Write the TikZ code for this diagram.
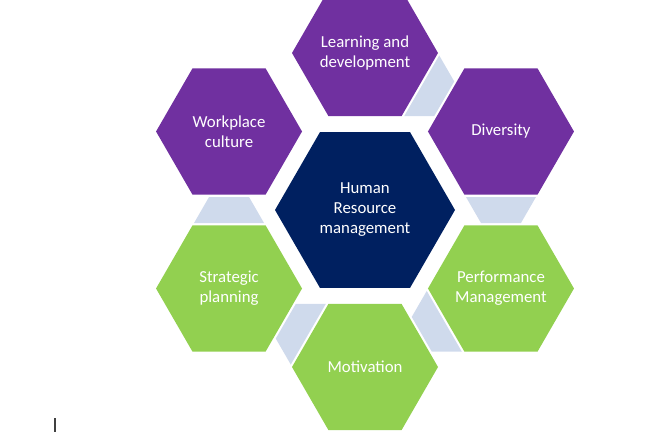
\documentclass[tikz,border=0pt]{standalone}
\usepackage{fontspec}
\setmainfont{Carlito}
\usetikzlibrary{shapes.geometric, calc}

\definecolor{hrnavy}{RGB}{0,32,96}
\definecolor{hrpurple}{RGB}{112,48,160}
\definecolor{hrgreen}{RGB}{146,208,80}
\definecolor{hrlink}{RGB}{207,218,236}

\begin{document}
\begin{tikzpicture}[
    x=1pt, y=1pt,
    hexbox/.style={regular polygon, regular polygon sides=6, inner sep=-8pt, text=white, align=center, font=\fontsize{16.8}{20}\selectfont},
    hexcore/.style={hexbox, fill=hrnavy, minimum size=180pt},
    hexpurple/.style={hexbox, fill=hrpurple, minimum size=146pt},
    hexgreen/.style={hexbox, fill=hrgreen, minimum size=146pt},
    link/.style={fill=hrlink}
]
    \useasboundingbox (0,0) rectangle (660,440);

    \node[hexcore] (hrm) at (365,230) {Human\\Resource\\management};
    \node[hexpurple] (learn) at ($(hrm)+(90:157)$) {Learning and\\development};
    \node[hexpurple] (div) at ($(hrm)+(30:157)$) {Diversity};
    \node[hexgreen] (perf) at ($(hrm)+(-30:157)$) {Performance\\Management};
    \node[hexgreen] (motiv) at ($(hrm)+(-90:157)$) {Motivation};
    \node[hexgreen] (strat) at ($(hrm)+(-150:157)$) {Strategic\\planning};
    \node[hexpurple] (culture) at ($(hrm)+(150:157)$) {Workplace\\culture};

    % links between neighbours, wide end at the first one
    \fill[link] ($(learn)!65.5pt!(div)!35pt!90:(div)$) -- ($(learn)!65.5pt!(div)!35pt!-90:(div)$) -- ($(learn)!91.5pt!(div)!20pt!-90:(div)$) -- ($(learn)!91.5pt!(div)!20pt!90:(div)$) -- cycle;
    \fill[link] ($(div)!65.5pt!(perf)!35pt!90:(perf)$) -- ($(div)!65.5pt!(perf)!35pt!-90:(perf)$) -- ($(div)!91.5pt!(perf)!20pt!-90:(perf)$) -- ($(div)!91.5pt!(perf)!20pt!90:(perf)$) -- cycle;
    \fill[link] ($(perf)!65.5pt!(motiv)!35pt!90:(motiv)$) -- ($(perf)!65.5pt!(motiv)!35pt!-90:(motiv)$) -- ($(perf)!91.5pt!(motiv)!20pt!-90:(motiv)$) -- ($(perf)!91.5pt!(motiv)!20pt!90:(motiv)$) -- cycle;
    \fill[link] ($(motiv)!65.5pt!(strat)!35pt!90:(strat)$) -- ($(motiv)!65.5pt!(strat)!35pt!-90:(strat)$) -- ($(motiv)!91.5pt!(strat)!20pt!-90:(strat)$) -- ($(motiv)!91.5pt!(strat)!20pt!90:(strat)$) -- cycle;
    \fill[link] ($(strat)!65.5pt!(culture)!35pt!90:(culture)$) -- ($(strat)!65.5pt!(culture)!35pt!-90:(culture)$) -- ($(strat)!91.5pt!(culture)!20pt!-90:(culture)$) -- ($(strat)!91.5pt!(culture)!20pt!90:(culture)$) -- cycle;

    % text cursor
    \draw[line width=1.2pt, black!75] (55,22) -- (55,8);
\end{tikzpicture}
\end{document}
